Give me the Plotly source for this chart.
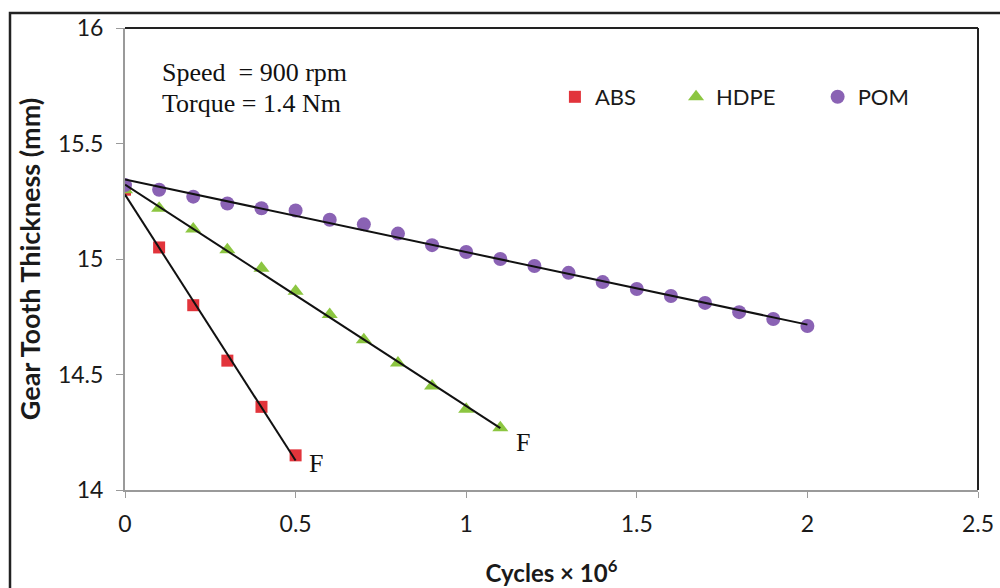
import numpy as np
import plotly.graph_objects as go

# Data (cycles x 10^6 vs gear tooth thickness, mm)
abs_x = [0, 0.1, 0.2, 0.3, 0.4, 0.5]
abs_y = [15.30, 15.05, 14.80, 14.56, 14.36, 14.15]

hdpe_x = [0, 0.1, 0.2, 0.3, 0.4, 0.5, 0.6, 0.7, 0.8, 0.9, 1.0, 1.1]
hdpe_y = [15.30, 15.22, 15.13, 15.04, 14.96, 14.86, 14.76, 14.65, 14.55, 14.45, 14.35, 14.27]

pom_x = [0, 0.1, 0.2, 0.3, 0.4, 0.5, 0.6, 0.7, 0.8, 0.9, 1.0,
         1.1, 1.2, 1.3, 1.4, 1.5, 1.6, 1.7, 1.8, 1.9, 2.0]
pom_y = [15.32, 15.30, 15.27, 15.24, 15.22, 15.21, 15.17, 15.15, 15.11, 15.06, 15.03,
         15.00, 14.97, 14.94, 14.90, 14.87, 14.84, 14.81, 14.77, 14.74, 14.71]

x_ticks = [0, 0.5, 1, 1.5, 2, 2.5]
x_ticklabels = ["0", "0.5", "1", "1.5", "2", "2.5"]
y_ticks = [14, 14.5, 15, 15.5, 16]
y_ticklabels = ["14", "14.5", "15", "15.5", "16"]

RED = "#E2343B"
GREEN = "#8CC641"
PURPLE = "#8A62B4"

SANS = "Lato, Open Sans, sans-serif"
SERIF = "Liberation Serif, Times New Roman, serif"
TXT = "#1a1a1a"

fig = go.Figure()

def trend(xs, ys):
    k, b = np.polyfit(xs, ys, 1)
    xx = [xs[0], xs[-1]]
    return xx, [k * v + b for v in xx]

series = [
    ("ABS", abs_x, abs_y, RED, "square", 12, "legend"),
    ("HDPE", hdpe_x, hdpe_y, GREEN, "triangle-up", 14, "legend2"),
    ("POM", pom_x, pom_y, PURPLE, "circle", 14, "legend3"),
]

for name, xs, ys, col, sym, sz, lg in series:
    fig.add_trace(go.Scatter(x=xs, y=ys, mode="markers", name=name,
                             marker=dict(color=col, symbol=sym, size=sz, line=dict(width=0)),
                             legend=lg))

for name, xs, ys, col, sym, sz, lg in series:
    tx, ty = trend(xs, ys)
    fig.add_trace(go.Scatter(x=tx, y=ty, mode="lines", showlegend=False,
                             line=dict(color="#111111", width=2)))

legend_font = dict(family=SANS, size=22, color=TXT)
def leg(xp):
    return dict(x=xp, y=(490 - 97) / 462, xanchor="left", yanchor="middle", orientation="h",
                bgcolor="rgba(0,0,0,0)", font=legend_font, itemwidth=30,
                itemclick=False)

fig.update_layout(
    width=1000, height=588,
    margin=dict(l=125, r=22, t=28, b=98),
    paper_bgcolor="white", plot_bgcolor="white",
    legend=leg(0.504),
    legend2=leg(0.646),
    legend3=leg(0.812),
    xaxis=dict(range=[0, 2.5], tickvals=x_ticks, ticktext=x_ticklabels, automargin=False,
               showgrid=False, zeroline=False, showline=True, linecolor="#9a9a9a", linewidth=2,
               ticks="outside", ticklen=6, tickcolor="#9a9a9a", tickwidth=1,
               ticklabelstandoff=6,
               tickfont=dict(family=SANS, size=23, color=TXT),
               title=dict(text="<b>Cycles × 10<sup>6</sup></b>", standoff=30,
                          font=dict(family=SANS, size=24, color=TXT))),
    yaxis=dict(range=[14, 16], tickvals=y_ticks, ticktext=y_ticklabels, automargin=False,
               showgrid=False, zeroline=False, showline=True, linecolor="#9a9a9a", linewidth=2,
               ticks="outside", ticklen=7, tickcolor="#9a9a9a", tickwidth=1,
               ticklabelstandoff=8,
               tickfont=dict(family=SANS, size=23, color=TXT),
               title=dict(text="<b>Gear Tooth Thickness (mm)</b>", standoff=9,
                          font=dict(family=SANS, size=27, color=TXT))),
    showlegend=True,
)

# plot area top and right border
fig.add_shape(type="line", xref="paper", yref="paper", x0=0, x1=1, y0=1, y1=1,
              line=dict(color="#222222", width=2))
fig.add_shape(type="line", xref="paper", yref="paper", x0=1, x1=1, y0=0, y1=1,
              line=dict(color="#222222", width=2))
# outer frame
fig.add_shape(type="rect", xref="paper", yref="paper",
              x0=(10 - 125) / 853, x1=(1010 - 125) / 853,
              y0=(490 - 600) / 462, y1=(490 - 13) / 462,
              line=dict(color="#222222", width=2.5))

serif = dict(family=SERIF, size=26, color="#111111")
fig.add_annotation(xref="paper", yref="paper", x=(160 - 125) / 853, y=(490 - 73) / 462,
                   xanchor="left", yanchor="middle", align="left", showarrow=False,
                   text="Speed  = 900 rpm", font=serif)
fig.add_annotation(xref="paper", yref="paper", x=(160 - 125) / 853, y=(490 - 104) / 462,
                   xanchor="left", yanchor="middle", align="left", showarrow=False,
                   text="Torque = 1.4 Nm", font=serif)
fig.add_annotation(x=abs_x[-1], y=abs_y[-1], xshift=11, yshift=-8, xanchor="left", yanchor="middle",
                   showarrow=False, text="F", font=serif)
fig.add_annotation(x=hdpe_x[-1], y=hdpe_y[-1], xshift=14, yshift=-15, xanchor="left", yanchor="middle",
                   showarrow=False, text="F", font=serif)

fig.write_html("out.html")
